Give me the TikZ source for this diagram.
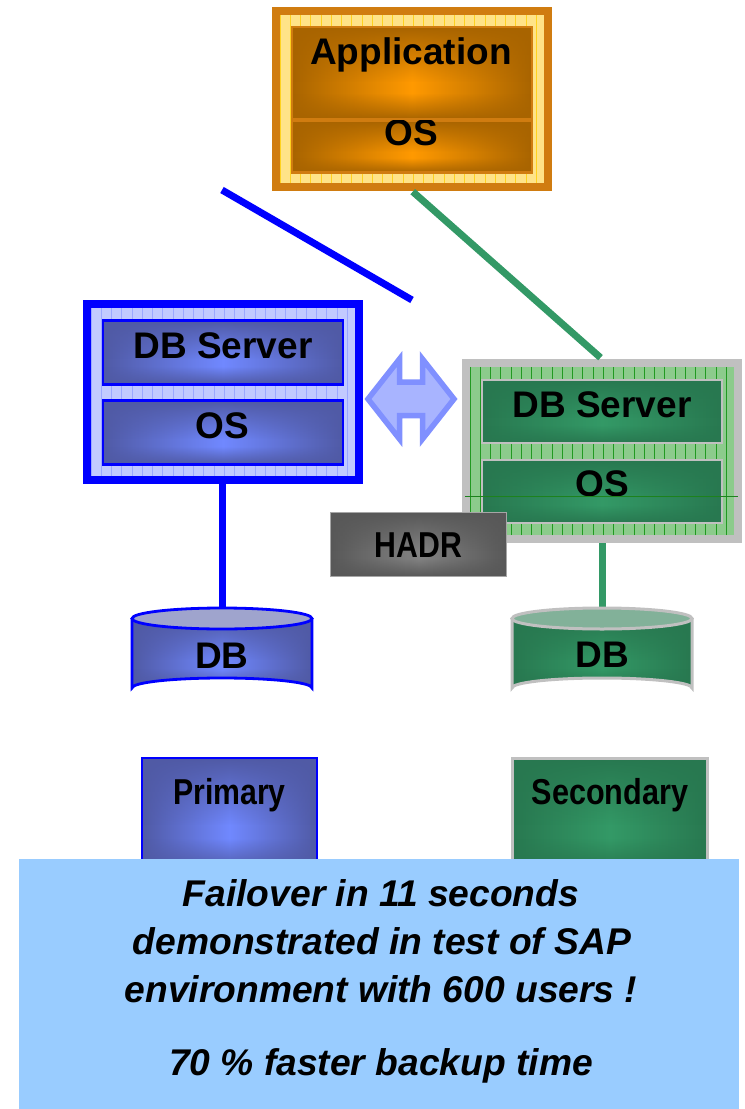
\documentclass[tikz,border=0pt]{standalone}
\usepackage{fontspec}
\usepackage{graphicx}
\setmainfont{Liberation Sans}
\usetikzlibrary{fadings}
\def\px{0.75pt}
\tikzfading[name=fadetop, top color=transparent!0, bottom color=transparent!100]
\tikzfading[name=fadebot, top color=transparent!100, bottom color=transparent!0]
\definecolor{ordark}{HTML}{A86400}\definecolor{orlight}{HTML}{FF9900}
\definecolor{orline}{HTML}{D07C10}\definecolor{orfill}{HTML}{FFE388}\definecolor{orgrid}{HTML}{FFD21E}
\definecolor{bldark}{HTML}{505AA5}\definecolor{bllight}{HTML}{7088FF}
\definecolor{blline}{HTML}{0000FF}\definecolor{blfill}{HTML}{C2CAFF}\definecolor{blgrid}{HTML}{9CA8FF}
\definecolor{grdark}{HTML}{287850}\definecolor{grlight}{HTML}{339966}
\definecolor{grline}{HTML}{C0C0C0}\definecolor{grfill}{HTML}{8CCB8C}\definecolor{grgrid}{HTML}{229922}
\definecolor{hadark}{HTML}{585858}\definecolor{halight}{HTML}{828282}
\definecolor{arline}{HTML}{8090FF}\definecolor{arfill}{HTML}{A8B4FF}
\definecolor{banner}{HTML}{99CCFF}
\tikzset{
  glow/.style n args={2}{path picture={
    \shade[left color=#1, right color=#1, middle color=#2]
      (path picture bounding box.south west) rectangle (path picture bounding box.north east);
    \fill[#1, path fading=fadetop] (path picture bounding box.north west) rectangle
      ($(path picture bounding box.north east)!0.6!(path picture bounding box.south east)$);
    \fill[#1, path fading=fadebot] ($(path picture bounding box.north west)!0.72!(path picture bounding box.south west)$) rectangle
      (path picture bounding box.south east);
  }},
  frame/.style={draw=#1, line width=8*\px, minimum width=272*\px, minimum height=176*\px, inner sep=0pt},
  inbox/.style={draw=#1, line width=2.6*\px, minimum width=240*\px, inner sep=0pt},
  label/.style={font=\bfseries\fontsize{27.75pt}{30pt}\selectfont, anchor=base, inner sep=0pt, text=black},
  narrow/.style={font=\bfseries\fontsize{27pt}{30pt}\selectfont, anchor=base, inner sep=0pt, text=black},
  bannertext/.style={font=\bfseries\itshape\fontsize{27.9pt}{30pt}\selectfont, anchor=base, inner sep=0pt, text=black},
  link/.style={line width=7*\px},
}
\usetikzlibrary{calc}
\newcommand{\cellgrid}[5]{%
  \draw[#5, line width=0.8*\px, shift={(#1,#2)}, xstep=10.25, ystep=10.25] (0,0) grid (#3,#4);}
\newcommand{\drum}[4]{% cx, name, border colour, lid colour + dark + light via styles
  \path[glow={#3}{#4}] (#1-90,618.5) -- (#1-90,688) arc[start angle=180, end angle=360, x radius=90, y radius=10]
    -- (#1+90,618.5) -- cycle;}
\begin{document}
\begin{tikzpicture}[x=0.75pt,y=-0.75pt]
\useasboundingbox (0,0) rectangle (744,1109);

% hidden anchors of the drums and free ends
\coordinate (free1) at (222,190);
\coordinate (free2) at (412,300);
\coordinate (hl) at (465,496);
\coordinate (hr) at (738,496);

% ---------- frames
\node[frame=orline, fill=orfill] (appframe) at (412,99) {};
\cellgrid{280}{15}{264}{168}{orgrid}
\node[frame=blline, fill=blfill] (blueframe) at (223,392) {};
\cellgrid{91}{308}{264}{168}{blgrid}
\node[frame=grline, fill=grfill] (greenframe) at (602,451) {};
\cellgrid{470}{367}{264}{168}{grgrid}

% ---------- connectors
\draw[link, blline] (free1) -- (free2);
\draw[link, grlight, shorten >=2*\px, shorten <=1*\px] (appframe.south) -- (greenframe.north);

% ---------- application stack
\node[inbox=orline, minimum height=52*\px, glow={ordark}{orlight}] (appos) at (412,146.5) {};
\node[label] (apposl) at (411,146) {OS};
\node[inbox=orline, minimum height=92*\px, glow={ordark}{orlight}] (appbox) at (412,73) {};
\node[label] (appl) at (411,65) {Application};

% ---------- primary stack
\node[inbox=blline, minimum height=64*\px, glow={bldark}{bllight}] (bdb) at (223,352.5) {};
\node[label] at (223,358) (bdbl) {DB Server};
\node[inbox=blline, minimum height=64*\px, glow={bldark}{bllight}] (bos) at (223,432.5) {};
\node[label] at (222,438) (bosl) {OS};

% ---------- secondary stack
\node[inbox=grline, minimum height=63*\px, glow={grdark}{grlight}] (gdb) at (602,411.5) {};
\node[label] at (602,417) (gdbl) {DB Server};
\node[inbox=grline, minimum height=63*\px, glow={grdark}{grlight}] (gos) at (602,491.5) {};
\node[label] at (602,496) (gosl) {OS};
\draw[grgrid!85!black, line width=0.7*\px] (hl) -- (hr);

% ---------- HADR
\node[draw=black!35, line width=1*\px, minimum width=176*\px, minimum height=64*\px, inner sep=0pt, glow={hadark}{halight}] (hadr) at (418.5,544.5) {};
\node[narrow] (hadrl) at (418.5,557) {\scalebox{0.84}[1]{HADR}};

% ---------- double arrow
\path[draw=arline, fill=arfill, line width=5.5*\px, miter limit=10] (368,399) -- (399.5,359) -- (399.5,382) -- (422.5,382)
  -- (422.5,359) -- (454,399) -- (422.5,439) -- (422.5,415.5) -- (399.5,415.5) -- (399.5,439) -- cycle;

% ---------- drums
\node[minimum width=182*\px, minimum height=92*\px, inner sep=0pt] (dbp) at (222,653) {};
\node[minimum width=182*\px, minimum height=92*\px, inner sep=0pt] (dbs) at (602,653) {};
\draw[link, blline] (blueframe.south -| dbp.north) -- (dbp.north);
\draw[link, grlight] (greenframe.south) -- (dbs.north);

\path[glow={bldark}{bllight}] (132,618.5) -- (132,688) arc[start angle=180, end angle=360, x radius=90, y radius=10] -- (312,618.5) -- cycle;
\draw[blline, line width=2.8*\px, fill=bldark!55!white] (222,618.5) ellipse[x radius=90, y radius=10.5];
\draw[blline, line width=2.8*\px] (132,618.5) -- (132,688) arc[start angle=180, end angle=360, x radius=90, y radius=10] -- (312,618.5);
\node[label] (dbpl) at (222,668) {DB};

\path[glow={grdark}{grlight}] (512,618.5) -- (512,688) arc[start angle=180, end angle=360, x radius=90, y radius=10] -- (692,618.5) -- cycle;
\draw[grline, line width=3*\px, fill=grdark!58!white] (602,618.5) ellipse[x radius=90, y radius=10.5];
\draw[grline, line width=3*\px] (512,618.5) -- (512,688) arc[start angle=180, end angle=360, x radius=90, y radius=10] -- (692,618.5);
\node[label] (dbsl) at (602,667) {DB};

% ---------- role boxes
\node[draw=blline, line width=2.6*\px, minimum width=175*\px, minimum height=112*\px, inner sep=0pt, glow={bldark}{bllight}] (prim) at (229.5,814) {};
\node[narrow] (priml) at (229.5,804) {\scalebox{0.84}[1]{Primary}};
\node[draw=grline, line width=3*\px, minimum width=195*\px, minimum height=112*\px, inner sep=0pt, glow={grdark}{grlight}] (sec) at (610,814) {};
\node[narrow] (secl) at (610,804) {\scalebox{0.85}[1]{Secondary}};

% ---------- banner
\node[fill=banner, minimum width=720*\px, minimum height=250*\px, inner sep=0pt] (ban) at (379,984) {};
\node[bannertext] (t1) at (381,906) {Failover in 11 seconds};
\node[bannertext] (t2) at (382,954) {demonstrated in test of SAP};
\node[bannertext] (t3) at (381,1002) {environment with 600 users !};
\node[bannertext] (t4) at (381,1075) {70 \% faster backup time};
\end{tikzpicture}
\end{document}
